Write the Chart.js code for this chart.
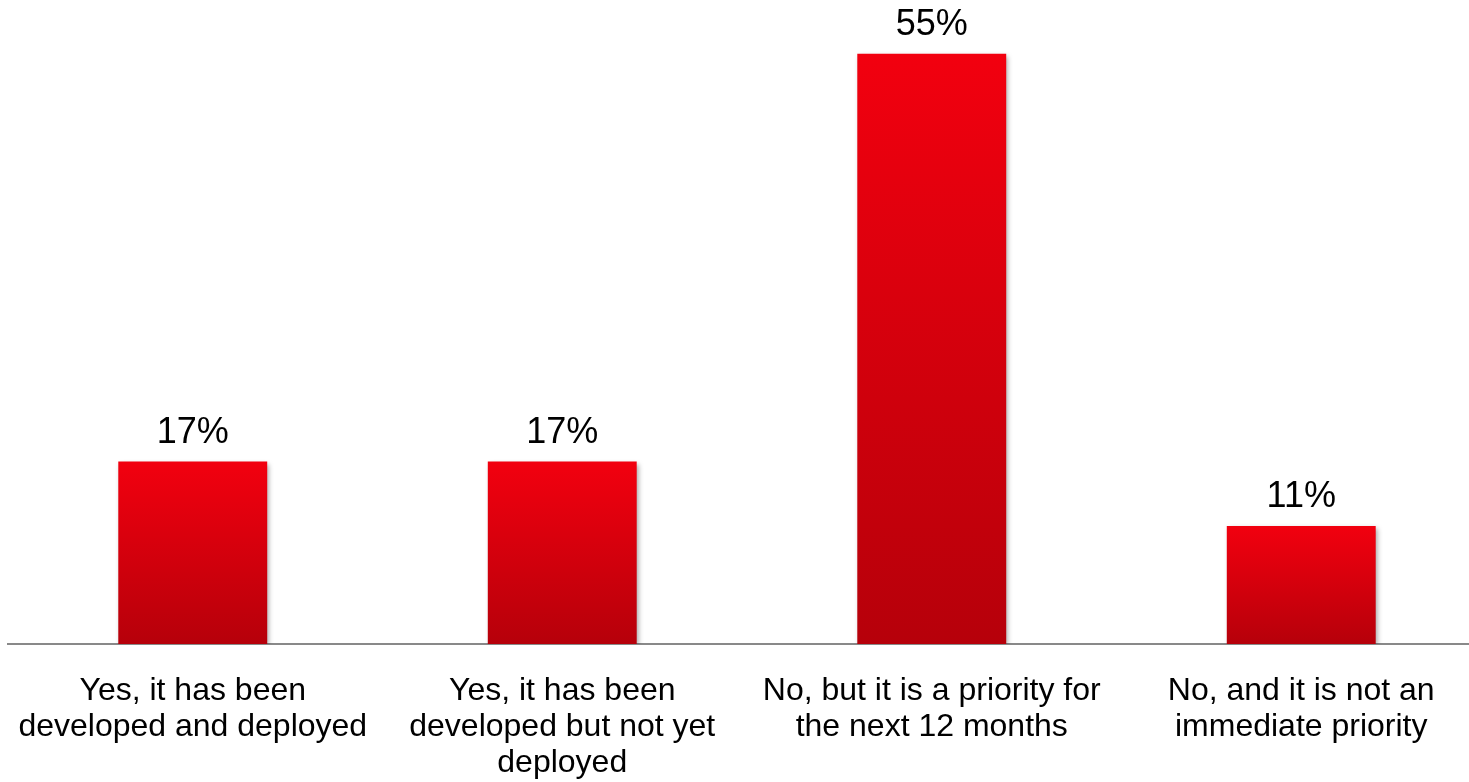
<!DOCTYPE html>
<html>
<head>
<meta charset="utf-8">
<script src="https://cdn.jsdelivr.net/npm/chart.js@4"></script>
<style>
html,body{margin:0;padding:0;background:#fff;overflow:hidden;width:1469px;height:782px;}
#wrap{position:absolute;left:0;top:0;width:1494px;height:782px;}
</style>
</head>
<body>
<div id="wrap"><canvas id="c" width="1494" height="782"></canvas></div>
<script>
const categories = [
  ["Yes, it has been", "developed and deployed"],
  ["Yes, it has been", "developed but not yet", "deployed"],
  ["No, but it is a priority for", "the next 12 months"],
  ["No, and it is not an", "immediate priority"]
];
const values = [17, 17, 55, 11];
const valueSuffix = "%";
const yMax = 60;

const FONT = "'Liberation Sans', Arial, sans-serif";

function barGradient(context) {
  const chart = context.chart;
  const {ctx, chartArea, scales} = chart;
  if (!chartArea || context.type !== 'data') return '#d8000c';
  const v = context.raw;
  const top = scales.y.getPixelForValue(v);
  const bottom = scales.y.getPixelForValue(0);
  const g = ctx.createLinearGradient(0, top, 0, bottom);
  g.addColorStop(0, '#f2000f');
  g.addColorStop(1, '#b6000a');
  return g;
}

const shadowPlugin = {
  id: 'barShadow',
  beforeDatasetsDraw(chart) {
    const ctx = chart.ctx;
    ctx.save();
    ctx.shadowColor = 'rgba(0,0,0,0.35)';
    ctx.shadowBlur = 5;
    ctx.shadowOffsetX = 2;
    ctx.shadowOffsetY = 2;
  },
  afterDatasetsDraw(chart) {
    chart.ctx.restore();
  }
};

const labelPlugin = {
  id: 'valueLabels',
  afterDatasetsDraw(chart) {
    const ctx = chart.ctx;
    const meta = chart.getDatasetMeta(0);
    ctx.save();
    ctx.font = "36px " + FONT;
    ctx.fillStyle = '#000';
    ctx.textAlign = 'center';
    ctx.textBaseline = 'alphabetic';
    meta.data.forEach((bar, i) => {
      ctx.fillText(values[i] + valueSuffix, bar.x, bar.y - 19);
    });
    ctx.restore();
  }
};

new Chart(document.getElementById('c'), {
  type: 'bar',
  data: {
    labels: categories,
    datasets: [{
      data: values,
      backgroundColor: barGradient,
      borderWidth: 0,
      barPercentage: 0.403,
      categoryPercentage: 1.0
    }]
  },
  options: {
    responsive: false,
    animation: false,
    devicePixelRatio: 1,
    layout: { padding: { left: 8, right: 8, top: 0, bottom: 0 } },
    plugins: { legend: { display: false }, tooltip: { enabled: false } },
    scales: {
      x: {
        grid: { display: true, drawOnChartArea: false, drawTicks: false, color: 'rgba(0,0,0,0)' },
        border: { display: true, color: '#898989', width: 2 },
        ticks: {
          color: '#000',
          font: { family: FONT, size: 32, lineHeight: '36px' },
          padding: 29,
          maxRotation: 0,
          autoSkip: false
        },
        afterFit(scale) {
          scale.paddingLeft = 0;
          scale.paddingRight = 0;
          scale.height = 138;
        }
      },
      y: {
        display: false,
        min: 0,
        max: yMax
      }
    }
  },
  plugins: [shadowPlugin, labelPlugin]
});
</script>
</body>
</html>
